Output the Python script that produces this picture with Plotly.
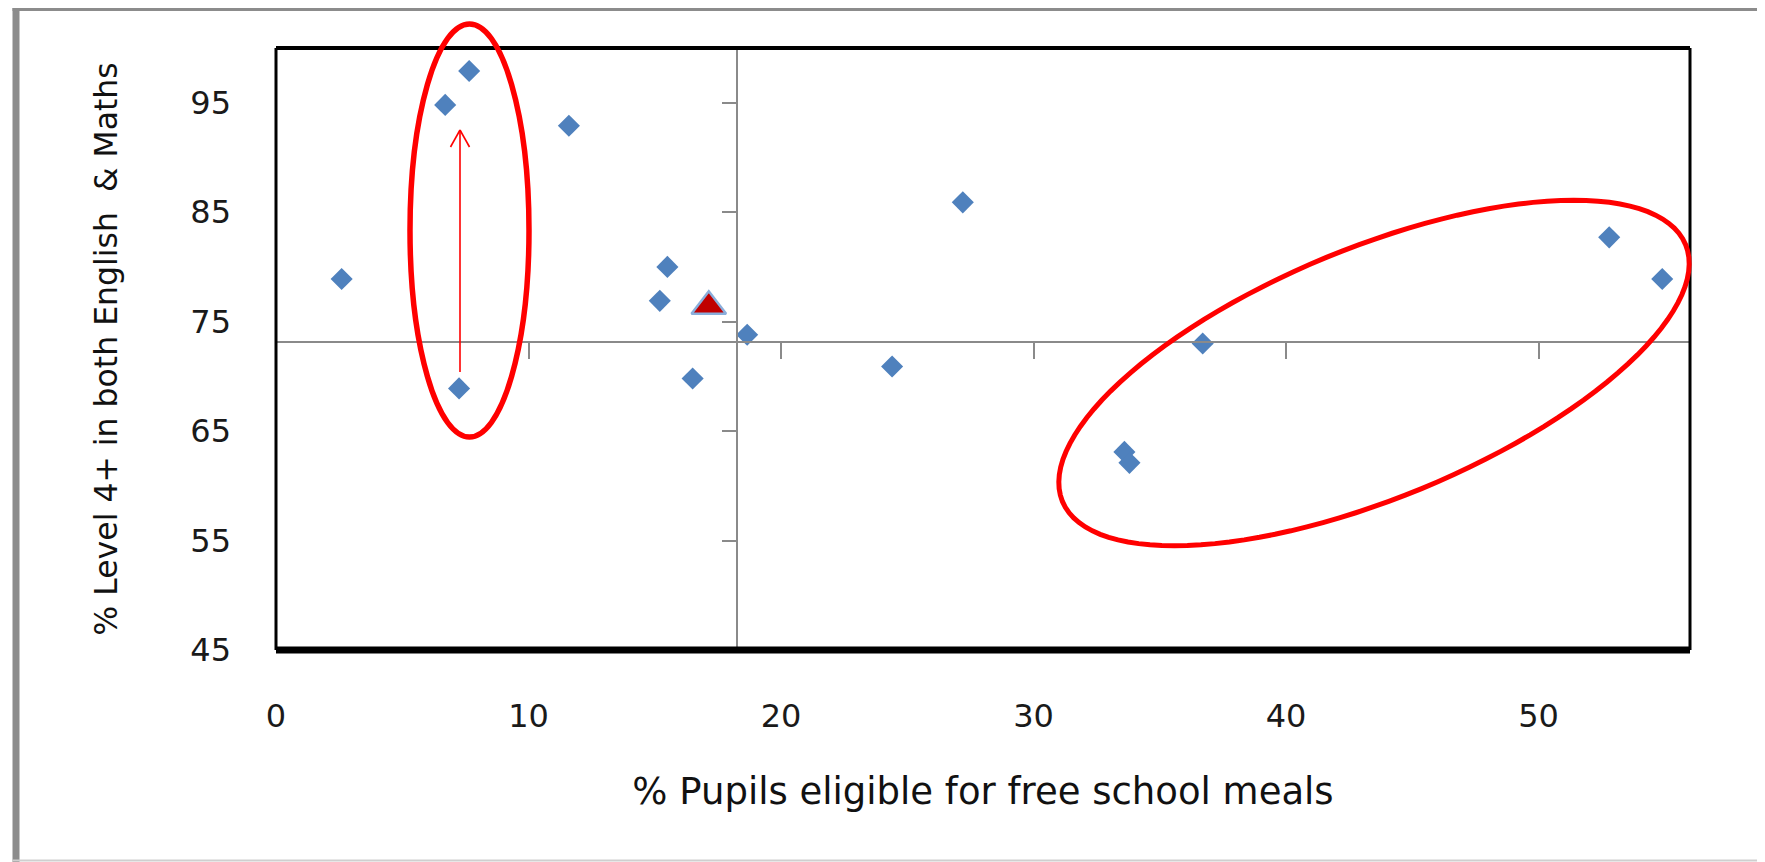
import math
import plotly.graph_objects as go

# ---------------- data ----------------
fsm_pct = [2.6, 6.7, 7.65, 7.25, 11.6, 15.5, 15.2, 16.5, 18.66, 24.4, 27.2,
           36.7, 33.6, 33.8, 52.8, 54.9]
level4_pct = [78.9, 94.8, 97.9, 68.9, 92.9, 80.0, 76.9, 69.8, 73.8, 70.9, 85.9,
              73.0, 63.1, 62.1, 82.7, 78.9]
highlight_fsm = [17.14]
highlight_level4 = [76.4]
avg_fsm = 18.26
avg_level4 = 73.1
x_ticks = [0, 10, 20, 30, 40, 50]
y_ticks = [45, 55, 65, 75, 85, 95]
x_range = [0, 56]
y_range = [45, 100]
x_title = "% Pupils eligible for free school meals"
y_title = "% Level 4+ in both English  & Maths"

# ---------------- geometry (page pixels; the page body has an 8px margin) ----------------
OFF = 8
W, H = 1765 - OFF, 862 - OFF
PLOT_L, PLOT_R, PLOT_T, PLOT_B = 276, 1690, 48, 650  # page coordinates
ML, MT = PLOT_L - OFF, PLOT_T - OFF
MR, MB = W - (PLOT_R - OFF), H - (PLOT_B - OFF)
PW, PH = PLOT_R - PLOT_L, PLOT_B - PLOT_T
FONT = "DejaVu Sans"
BLUE = "#4F81BD"
GRAY = "#8a8a8a"


def px(x):
    return (x - PLOT_L) / PW


def py(y):
    return (PLOT_B - y) / PH


fig = go.Figure()
fig.add_trace(go.Scatter(
    x=fsm_pct, y=level4_pct, mode="markers",
    marker=dict(symbol="diamond", size=17, color=BLUE, line=dict(width=0)),
    showlegend=False, hoverinfo="x+y"))
fig.add_trace(go.Scatter(
    x=highlight_fsm, y=highlight_level4, mode="markers",
    marker=dict(symbol="triangle-up", size=30, color="#C00000",
                line=dict(width=2.5, color="#8AAEDB")),
    showlegend=False, hoverinfo="x+y"))
# invisible trace registering the crossing axes
fig.add_trace(go.Scatter(
    x=fsm_pct, y=level4_pct, xaxis="x2", yaxis="y2", mode="markers",
    marker=dict(opacity=0), showlegend=False, hoverinfo="skip"))

axis_common = dict(showgrid=False, zeroline=False)
fig.update_layout(
    width=W, height=H,
    margin=dict(l=ML, r=MR, t=MT, b=MB, autoexpand=False),
    paper_bgcolor="white", plot_bgcolor="white",
    font=dict(family=FONT, color="#1a1a1a"),
    xaxis=dict(range=x_range, tickvals=x_ticks, ticks="", showline=False,
               tickfont=dict(size=32, family=FONT, color="#1a1a1a"),
               ticklabelstandoff=44,
               title=dict(text=x_title, font=dict(size=37, family=FONT, color="#111"),
                          standoff=44),
               automargin=False, **axis_common),
    yaxis=dict(range=y_range, tickvals=y_ticks, ticks="", showline=False,
               tickfont=dict(size=32, family=FONT, color="#1a1a1a"),
               ticklabelstandoff=44,
               title=dict(text=y_title, font=dict(size=31.5, family=FONT, color="#111"),
                          standoff=63),
               automargin=False, **axis_common),
    xaxis2=dict(range=x_range, overlaying="x", anchor="free",
                position=(avg_level4 - y_range[0]) / (y_range[1] - y_range[0]),
                side="bottom", tickvals=x_ticks, ticks="outside", ticklen=16,
                tickwidth=2, tickcolor=GRAY, showline=True, linecolor=GRAY,
                linewidth=2, showticklabels=False, **axis_common),
    yaxis2=dict(range=y_range, overlaying="y", anchor="free",
                position=(avg_fsm - x_range[0]) / (x_range[1] - x_range[0]),
                side="left", tickvals=y_ticks, ticks="outside", ticklen=14,
                tickwidth=2, tickcolor=GRAY, showline=True, linecolor=GRAY,
                linewidth=2, showticklabels=False, **axis_common),
)

shapes = []
# plot frame
shapes.append(dict(type="line", xref="paper", yref="paper", x0=0, x1=1, y0=1, y1=1,
                   line=dict(color="black", width=4)))
shapes.append(dict(type="line", xref="paper", yref="paper", x0=0, x1=0, y0=0, y1=1,
                   line=dict(color="black", width=3)))
shapes.append(dict(type="line", xref="paper", yref="paper", x0=1, x1=1, y0=0, y1=1,
                   line=dict(color="black", width=3)))
shapes.append(dict(type="line", xref="paper", yref="paper", x0=0, x1=1, y0=0, y1=0,
                   line=dict(color="black", width=7)))
# outer chart border
shapes.append(dict(type="line", xref="paper", yref="paper", x0=px(16), x1=px(16),
                   y0=py(8), y1=py(862), line=dict(color="#8c8c8c", width=7)))
shapes.append(dict(type="line", xref="paper", yref="paper", x0=px(12.5), x1=px(1765),
                   y0=py(9.5), y1=py(9.5), line=dict(color="#8c8c8c", width=3)))
shapes.append(dict(type="line", xref="paper", yref="paper", x0=px(1763.5), x1=px(1763.5),
                   y0=py(8), y1=py(862), line=dict(color="#cfcfcf", width=2)))
shapes.append(dict(type="line", xref="paper", yref="paper", x0=px(12.5), x1=px(1765),
                   y0=py(860.5), y1=py(860.5), line=dict(color="#cfcfcf", width=2)))

# red highlight ellipse around the low-FSM group
shapes.append(dict(type="circle", xref="paper", yref="paper",
                   x0=px(410), x1=px(529), y0=py(437), y1=py(24),
                   line=dict(color="#FF0000", width=5.5)))
# rotated red ellipse around the high-FSM group
cx, cy, a, b, th = 1374, 373, 337, 125, math.radians(22.4)
pts = []
for i in range(121):
    t = 2 * math.pi * i / 120
    ex = cx + a * math.cos(t) * math.cos(th) - b * math.sin(t) * math.sin(th)
    ey = cy - (a * math.cos(t) * math.sin(th) + b * math.sin(t) * math.cos(th))
    pts.append(f"{px(ex):.5f},{py(ey):.5f}")
shapes.append(dict(type="path", xref="paper", yref="paper",
                   path="M" + " L".join(pts) + " Z",
                   line=dict(color="#FF0000", width=5)))
# red arrow
ax_x, ax_y0, ax_y1 = 460, 372, 130
shapes.append(dict(type="line", xref="paper", yref="paper", x0=px(ax_x), x1=px(ax_x),
                   y0=py(ax_y0), y1=py(ax_y1), line=dict(color="#FF0000", width=1.6)))
for s in (-1, 1):
    shapes.append(dict(type="line", xref="paper", yref="paper",
                       x0=px(ax_x + s * 9.5), x1=px(ax_x), y0=py(ax_y1 + 17), y1=py(ax_y1),
                       line=dict(color="#FF0000", width=1.6)))
fig.update_layout(shapes=shapes)

fig.write_html("out.html")
